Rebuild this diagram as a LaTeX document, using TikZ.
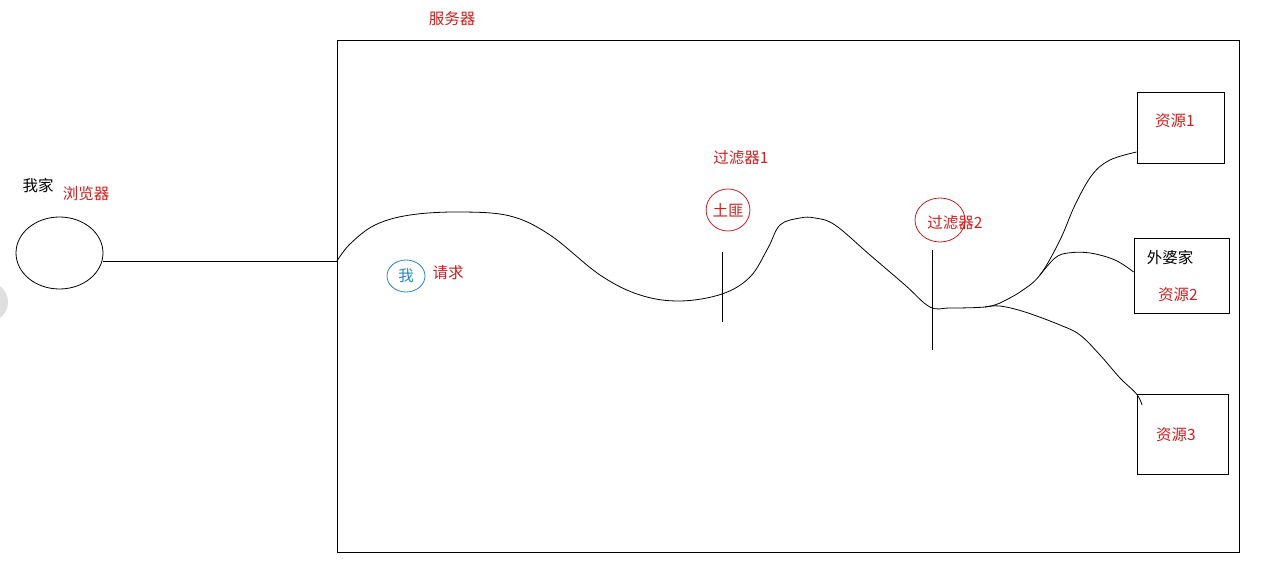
\documentclass[tikz,border=0pt]{standalone}
\usepackage{fontspec}
\setmainfont{Noto Sans CJK SC}
\usetikzlibrary{shapes.geometric}
\definecolor{inkred}{HTML}{CC2020}
\definecolor{inkblue}{HTML}{2A86C0}
\begin{document}
\begin{tikzpicture}[x=1pt, y=-1pt, line width=0.8pt,
    every node/.style={font=\fontsize{15.5}{17}\selectfont, inner sep=0pt},
    redtext/.style={text=inkred},
    box/.style={draw, rectangle},
    ring/.style={draw, ellipse}]
  \useasboundingbox (0,0) rectangle (1282,572);
  \fill[gray!25] (-12,302) circle (20pt);
  % server
  \node[box, minimum width=902pt, minimum height=512pt] (server) at (788,296) {};
  \node[redtext] (servername) at (452,19) {服务器};
  % browser
  \node[ring, minimum width=87pt, minimum height=72pt] (home) at (59.5,253) {};
  \node (homename) at (38,186) {我家};
  \node[redtext] (browsername) at (86,194) {浏览器};
  \coordinate (entry) at (337,261);
  \draw (entry -| home.east) -- (entry);
  % me
  \node[ring, draw=inkblue, text=inkblue, minimum width=38pt, minimum height=32pt] (me) at (406,276) {我};
  \node[redtext] (request) at (448,273) {请求};
  % filters
  \node[redtext] (filterone) at (741,158) {过滤器1};
  \node[ring, draw=inkred, text=inkred, minimum width=42pt, minimum height=42pt] (bandit) at (728,210) {土匪};
  \node[ring, draw=inkred, minimum width=50pt, minimum height=44pt] (filtertwo) at (940,220) {};
  \node[redtext] (filtertwoname) at (955,223) {过滤器2};
  \coordinate (barone) at (722,252);
  \coordinate (bartwo) at (932,250);
  \draw (barone) -- ++(0,70);
  \draw (bartwo) -- ++(0,100);
  % resources
  \node[box, minimum width=87pt, minimum height=71pt] (resone) at (1180.5,127.5) {};
  \node[redtext] at (1175,121) {资源1};
  \node[box, minimum width=95pt, minimum height=75pt] (grandma) at (1181.5,275.5) {};
  \node (grandmaname) at (1170,258) {外婆家};
  \node[redtext] at (1178,295) {资源2};
  \node[box, minimum width=91pt, minimum height=80pt] (resthree) at (1182.5,434) {};
  \node[redtext] at (1176,435) {资源3};
  % request path
  \coordinate (fork) at (1000,303);
  \coordinate (forktwo) at (1040,275);
  \coordinate (forkthree) at (985,307);
  \draw plot[smooth, tension=0.6] coordinates {(entry) (350,244) (375,225) (410,215) (460,212)
    (510,216) (550,235) (600,275) (640,295) (680,301) (722,294) (750,277) (768,248)
    (780,225) (800,218) (815,218) (835,225) (870,255) (905,285) (930,307) (950,308)
    (forkthree) (fork)};
  \draw plot[smooth, tension=0.6] coordinates {(fork) (1020,292) (forktwo) (1060,240)
    (1075,205) (1092,175) (1110,160) (resone.west |- 0,152)};
  \draw plot[smooth, tension=0.6] coordinates {(forktwo) (1055,258) (1068,253) (1090,253)
    (1115,260) (grandma.west |- 0,272)};
  \draw plot[smooth, tension=0.6] coordinates {(forkthree) (1000,306) (1025,312) (1060,325)
    (1080,335) (1100,355) (1120,378) (resthree.west |- 0,394) (1142,405)};
\end{tikzpicture}
\end{document}
